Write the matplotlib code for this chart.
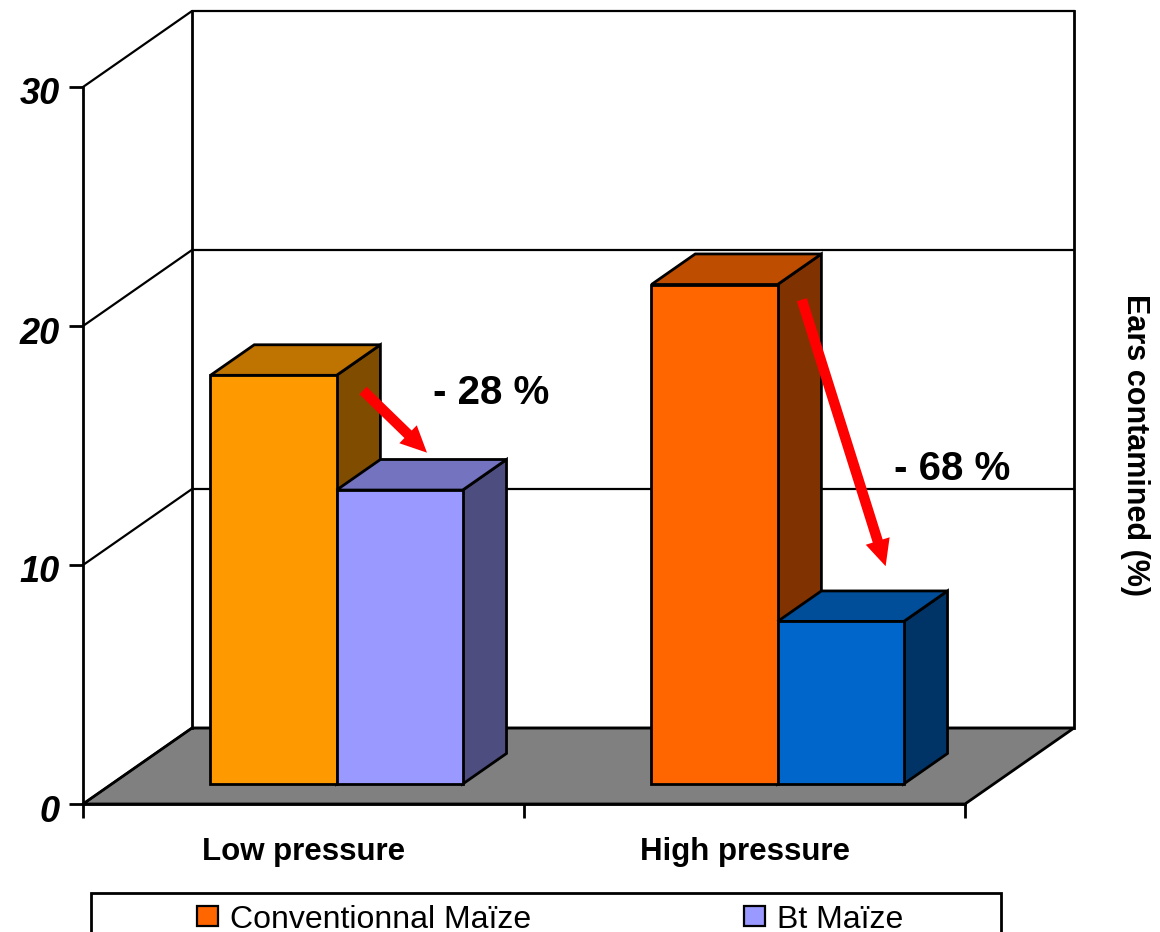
import matplotlib
matplotlib.use('Agg')
from matplotlib import pyplot as plt
from matplotlib.patches import Polygon, Rectangle
from matplotlib.transforms import ScaledTranslation

plt.rcParams['font.family'] = ['Liberation Sans', 'DejaVu Sans']

# Values
groups = ['Low pressure', 'High pressure']
series_names = ['Conventionnal Maïze', 'Bt Maïze']
conventional = [17.1, 20.9]
bt = [12.3, 6.8]
reductions = ['- 28 %', '- 68 %']
y_ticks = [0, 10, 20, 30]

# Colours: front, top, side of each bar
conv_colors = [('#FF9900', '#BF7300', '#804D00'), ('#FF6600', '#BF4D00', '#803300')]
bt_colors = [('#9999FF', '#7373BF', '#4D4D80'), ('#0066CC', '#004D99', '#003366')]

W, H = 1160, 932
fig = plt.figure(figsize=(W / 100, H / 100), dpi=100)

# The axes is the front plane of the fake 3D box
ax = fig.add_axes([83 / W, 1 - 804 / H, (965 - 83) / W, (804 - 87) / H])
ax.set_xlim(0, 2)
ax.set_ylim(0, 30)
ax.patch.set_visible(False)

# Depth of the box, in data units
DX = 109 / 441
DY = 76 / 23.9
BAR_WIDTH = 0.286
BAR_D0 = 0.263
BAR_D1 = 0.665
LW = 2.0


def pr(x, y, d):
    """Shift a data point back by depth d (0 = front, 1 = back wall)"""
    return (x + d * DX, y + d * DY)


def line(points, lw=LW, z=1):
    xs, ys = zip(*points)
    ax.plot(xs, ys, color='black', lw=lw, clip_on=False, zorder=z, solid_capstyle='projecting')


def bar(x0, value, colors, z):
    x1 = x0 + BAR_WIDTH
    front = [pr(x0, 0, BAR_D0), pr(x1, 0, BAR_D0), pr(x1, value, BAR_D0), pr(x0, value, BAR_D0)]
    top = [pr(x0, value, BAR_D0), pr(x1, value, BAR_D0), pr(x1, value, BAR_D1), pr(x0, value, BAR_D1)]
    side = [pr(x1, 0, BAR_D0), pr(x1, 0, BAR_D1), pr(x1, value, BAR_D1), pr(x1, value, BAR_D0)]
    for pts, col in zip([side, top, front], [colors[2], colors[1], colors[0]]):
        ax.add_patch(Polygon(pts, closed=True, facecolor=col, edgecolor='black', lw=LW,
                             joinstyle='miter', clip_on=False, zorder=z))


# Floor, back wall and left wall
ax.add_patch(Polygon([pr(0, 0, 0), pr(2, 0, 0), pr(2, 0, 1), pr(0, 0, 1)], closed=True,
                     facecolor='#808080', edgecolor='black', lw=LW, clip_on=False, zorder=1))
for v in y_ticks:
    line([pr(0, v, 0), pr(0, v, 1), pr(2, v, 1)], lw=1.6)
line([pr(0, 0, 1), pr(0, 30, 1)])
line([pr(2, 0, 1), pr(2, 30, 1)])

# Bars, left to right so that each one overlaps the previous
z = 3
for i in range(len(groups)):
    x_start = i + 0.5 + 0.01 - BAR_WIDTH
    bar(x_start, conventional[i], conv_colors[i], z)
    bar(x_start + BAR_WIDTH, bt[i], bt_colors[i], z + 1)
    z += 2

# Axis, ticks and labels
for name in ['top', 'right']:
    ax.spines[name].set_visible(False)
ax.spines['left'].set_linewidth(LW)
ax.spines['bottom'].set_linewidth(LW)
ax.spines['left'].set_zorder(2)
ax.spines['bottom'].set_zorder(2)
ax.set_yticks(y_ticks)
ax.set_yticklabels([str(v) for v in y_ticks], fontsize=26, fontweight='bold', fontstyle='italic')
ax.set_xticks([0, 1, 2])
ax.set_xticklabels(['', '', ''])
ax.set_xticks([0.5, 1.5], minor=True)
ax.set_xticklabels(groups, minor=True, fontsize=22.5, fontweight='bold')
ax.tick_params(axis='both', which='major', length=10, width=LW, pad=6.5)
ax.tick_params(axis='x', which='minor', length=0, pad=24)
# the tick labels sit a little under their ticks in the original
for lab in ax.get_yticklabels():
    lab.set_transform(lab.get_transform() + ScaledTranslation(0, -4 / 100, fig.dpi_scale_trans))

fig.text(1135 / W, 1 - 445 / H, 'Ears contamined (%)', rotation=270, ha='center', va='center',
         fontsize=22, fontweight='bold')

# Red arrows and the reduction labels
arrows = [((0.635, 17.3), (0.78, 14.7)), ((1.63, 21.1), (1.82, 9.95))]
label_pos = [(0.925, 17.2), (1.97, 14.0)]
for (start, end), txt, pos in zip(arrows, reductions, label_pos):
    ax.annotate('', xy=end, xytext=start, zorder=20, annotation_clip=False,
                arrowprops=dict(width=7.5, headwidth=18, headlength=19, color='#FF0000', shrink=0, lw=0))
    ax.text(pos[0], pos[1], txt, fontsize=29, fontweight='bold', ha='center', va='center', zorder=21)

# Legend box runs off the bottom of the picture
fig.add_artist(Rectangle((90.5 / W, -0.02), 910 / W, 0.02 + 1 - 893 / H, transform=fig.transFigure,
                         facecolor='white', edgecolor='black', lw=LW))
legend_x = [197, 744]
legend_colors = [conv_colors[1][0], bt_colors[0][0]]
for x, name, col in zip(legend_x, series_names, legend_colors):
    fig.add_artist(Rectangle((x / W, 1 - 926 / H), 21 / W, 20 / H, transform=fig.transFigure,
                             facecolor=col, edgecolor='black', lw=1.6))
    fig.text((x + 33) / W, 1 - 920 / H, name, fontsize=23, ha='left', va='center')

fig.savefig('out.png', dpi=100)
